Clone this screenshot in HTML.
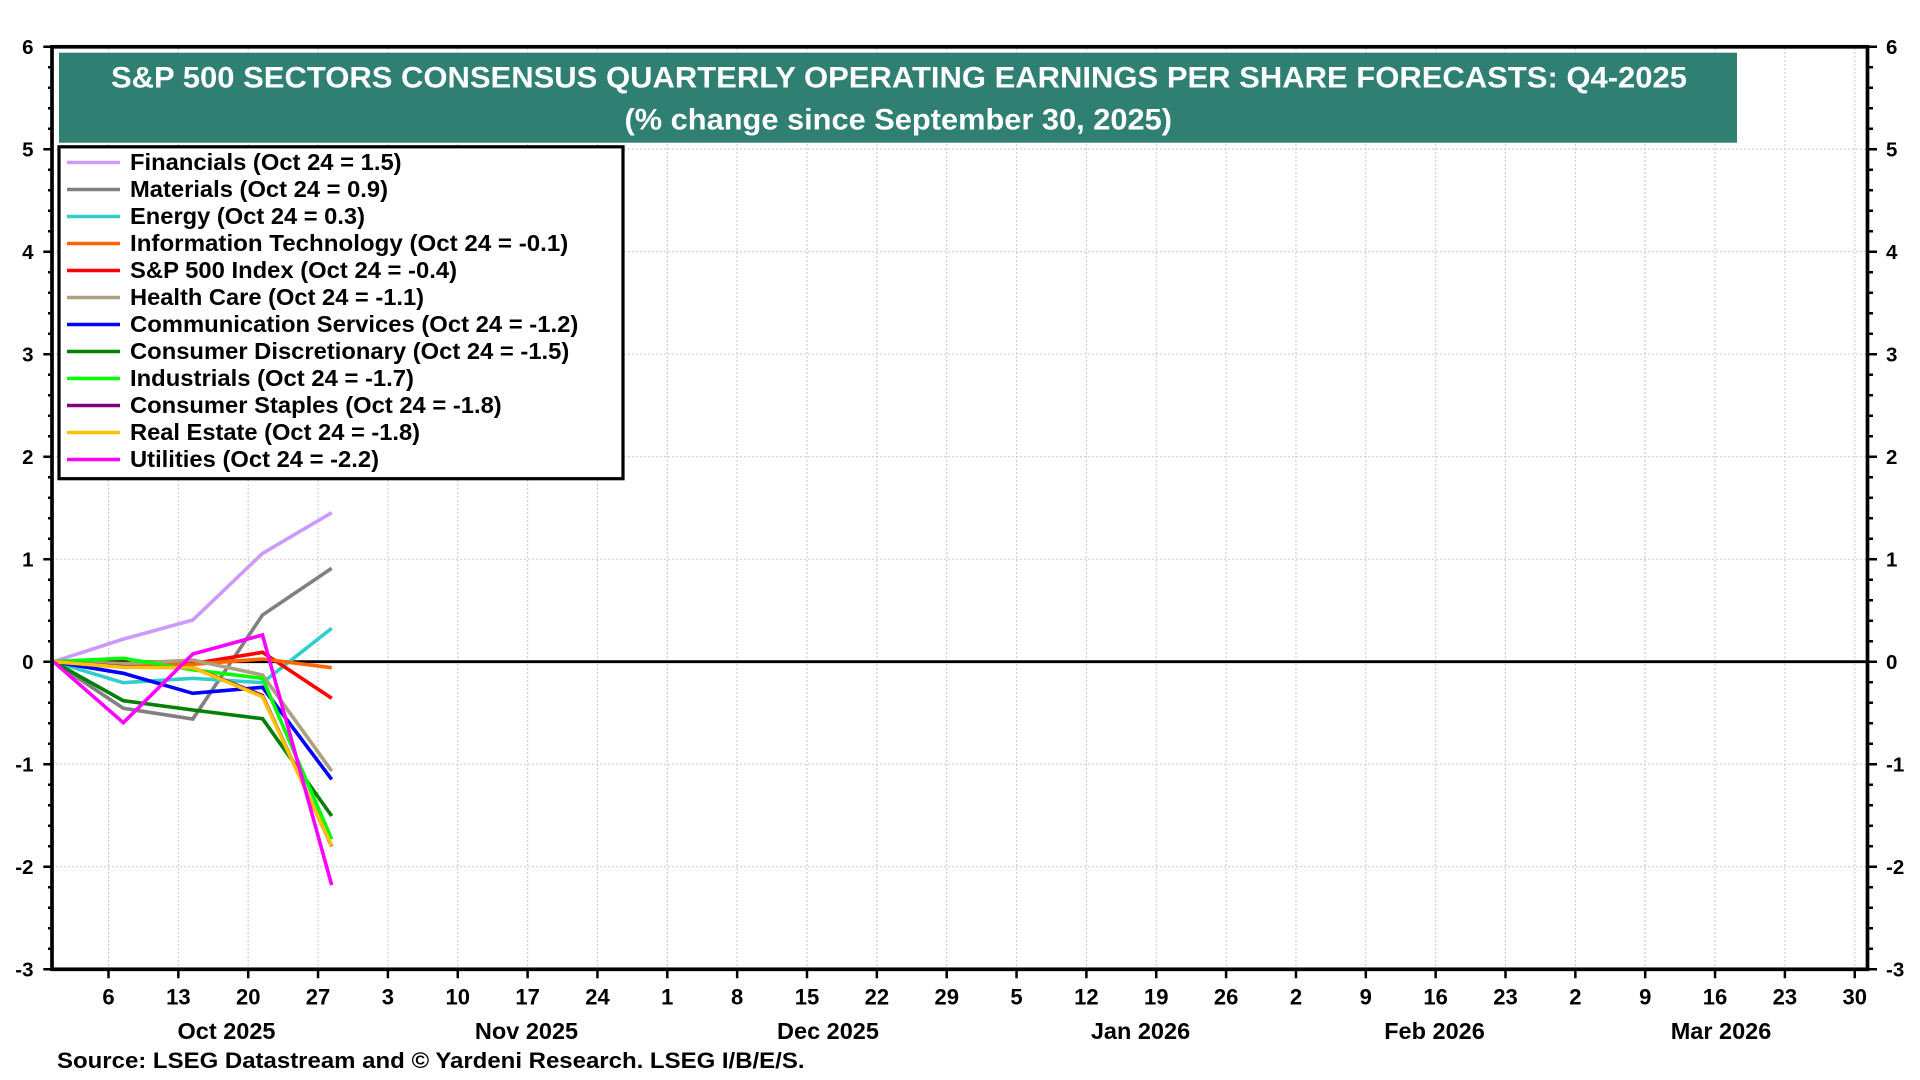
<!DOCTYPE html>
<html><head><meta charset="utf-8"><style>
html,body{margin:0;padding:0;background:#fff;}
svg{display:block;}
text{font-family:"Liberation Sans",Arial,sans-serif;font-weight:bold;}
</style></head><body>
<svg width="1920" height="1080" viewBox="0 0 1920 1080" xmlns="http://www.w3.org/2000/svg">
<rect x="0" y="0" width="1920" height="1080" fill="#fff"/>
<!-- gridlines -->
<g stroke="#cfcfcf" stroke-width="1.2" stroke-dasharray="2,2" fill="none">
<path d="M52 149.2H1867.5M52 251.7H1867.5M52 354.2H1867.5M52 456.7H1867.5M52 559.2H1867.5M52 764.2H1867.5M52 866.7H1867.5"/>
<path d="M108.5 48V968M178.35 48V968M248.2 48V968M318.05 48V968M387.9 48V968M457.75 48V968M527.6 48V968M597.45 48V968M667.3 48V968M737.15 48V968M807 48V968M876.85 48V968M946.7 48V968M1016.55 48V968M1086.4 48V968M1156.25 48V968M1226.1 48V968M1295.95 48V968M1365.8 48V968M1435.65 48V968M1505.5 48V968M1575.35 48V968M1645.2 48V968M1715.05 48V968M1784.9 48V968M1854.75 48V968"/>
</g>
<!-- title box -->
<rect x="59" y="52.7" width="1678" height="90" fill="#2F7F73"/>
<text x="111" y="87.3" font-size="30" fill="#fff" textLength="1576" lengthAdjust="spacingAndGlyphs">S&amp;P 500 SECTORS CONSENSUS QUARTERLY OPERATING EARNINGS PER SHARE FORECASTS: Q4-2025</text>
<text x="624.5" y="129.3" font-size="30" fill="#fff" textLength="547.5" lengthAdjust="spacingAndGlyphs">(% change since September 30, 2025)</text>
<!-- zero line -->
<line x1="52" y1="661.7" x2="1867.5" y2="661.7" stroke="#000" stroke-width="2.8"/>
<!-- data -->
<g fill="none" stroke-width="3.6" stroke-linejoin="miter" stroke-miterlimit="4">
<polyline stroke="#CC99FF" points="53.5,661.7 123.3,639.15 192.8,620 262.5,553.4 331.7,512.7"/>
<polyline stroke="#808080" points="53.5,661.7 123.3,708.3 192.8,719 262.5,615 331.7,568.3"/>
<polyline stroke="#33CCCC" points="53.5,661.7 123.3,682.7 192.8,678.3 262.5,682.7 331.7,628.3"/>
<polyline stroke="#FF0000" points="53.5,661.7 123.3,663.3 192.8,663.7 262.5,652.3 331.7,698.3"/>
<polyline stroke="#FF6600" points="53.5,661.7 123.3,663.7 192.8,664.3 262.5,659 331.7,667.7"/>
<polyline stroke="#ADA080" points="53.5,661.7 123.3,663.7 192.8,660 262.5,675 331.7,771"/>
<polyline stroke="#0000FF" points="53.5,661.7 123.3,673.3 192.8,693.3 262.5,687.3 331.7,779.4"/>
<polyline stroke="#008000" points="53.5,661.7 123.3,700.7 192.8,710 262.5,718.7 331.7,816"/>
<polyline stroke="#00FF00" points="53.5,661.7 123.3,658.3 192.8,669.9 262.5,678.3 331.7,839.3"/>
<polyline stroke="#800080" points="53.5,661.7 123.3,666.8 192.8,667.6 262.5,695.5 331.7,846.2"/>
<polyline stroke="#FFC000" points="53.5,661.7 123.3,667.3 192.8,667.6 262.5,696.7 331.7,845.7"/>
<polyline stroke="#FF00FF" points="53.5,661.7 123.3,722.7 192.8,654 262.5,635 331.7,885.1"/>
</g>
<!-- legend -->
<rect x="59" y="146.8" width="564" height="331.9" fill="#fff" stroke="#000" stroke-width="3.2"/>
<g stroke-width="3.5">
<line x1="67" x2="120" y1="162.5" y2="162.5" stroke="#CC99FF"/>
<line x1="67" x2="120" y1="189.5" y2="189.5" stroke="#808080"/>
<line x1="67" x2="120" y1="216.5" y2="216.5" stroke="#33CCCC"/>
<line x1="67" x2="120" y1="243.5" y2="243.5" stroke="#FF6600"/>
<line x1="67" x2="120" y1="270.5" y2="270.5" stroke="#FF0000"/>
<line x1="67" x2="120" y1="297.5" y2="297.5" stroke="#ADA080"/>
<line x1="67" x2="120" y1="324.5" y2="324.5" stroke="#0000FF"/>
<line x1="67" x2="120" y1="351.5" y2="351.5" stroke="#008000"/>
<line x1="67" x2="120" y1="378.5" y2="378.5" stroke="#00FF00"/>
<line x1="67" x2="120" y1="405.5" y2="405.5" stroke="#800080"/>
<line x1="67" x2="120" y1="432.5" y2="432.5" stroke="#FFC000"/>
<line x1="67" x2="120" y1="459.5" y2="459.5" stroke="#FF00FF"/>
</g>
<g font-size="23.5" fill="#000" lengthAdjust="spacingAndGlyphs">
<text x="130" y="170" textLength="271.6" lengthAdjust="spacingAndGlyphs">Financials (Oct 24 = 1.5)</text>
<text x="130" y="197" textLength="258" lengthAdjust="spacingAndGlyphs">Materials (Oct 24 = 0.9)</text>
<text x="130" y="224" textLength="235" lengthAdjust="spacingAndGlyphs">Energy (Oct 24 = 0.3)</text>
<text x="130" y="251" textLength="438.3" lengthAdjust="spacingAndGlyphs">Information Technology (Oct 24 = -0.1)</text>
<text x="130" y="278" textLength="327" lengthAdjust="spacingAndGlyphs">S&amp;P 500 Index (Oct 24 = -0.4)</text>
<text x="130" y="305" textLength="294" lengthAdjust="spacingAndGlyphs">Health Care (Oct 24 = -1.1)</text>
<text x="130" y="332" textLength="448.3" lengthAdjust="spacingAndGlyphs">Communication Services (Oct 24 = -1.2)</text>
<text x="130" y="359" textLength="439.3" lengthAdjust="spacingAndGlyphs">Consumer Discretionary (Oct 24 = -1.5)</text>
<text x="130" y="386" textLength="284" lengthAdjust="spacingAndGlyphs">Industrials (Oct 24 = -1.7)</text>
<text x="130" y="413" textLength="371.7" lengthAdjust="spacingAndGlyphs">Consumer Staples (Oct 24 = -1.8)</text>
<text x="130" y="440" textLength="290" lengthAdjust="spacingAndGlyphs">Real Estate (Oct 24 = -1.8)</text>
<text x="130" y="467" textLength="249" lengthAdjust="spacingAndGlyphs">Utilities (Oct 24 = -2.2)</text>
</g>
<!-- frame -->
<rect x="52" y="46.8" width="1815.5" height="922.5" fill="none" stroke="#000" stroke-width="3.7"/>
<!-- y ticks -->
<g stroke="#000" fill="none">
<line x1="47.65" y1="45.45" x2="47.65" y2="971" stroke-width="8.7" stroke-dasharray="2.5 100"/>
<line x1="50" y1="45.45" x2="50" y2="971" stroke-width="4" stroke-dasharray="2.5 18"/>
<line x1="1872.25" y1="45.45" x2="1872.25" y2="971" stroke-width="9.5" stroke-dasharray="2.5 100"/>
<line x1="1870" y1="45.45" x2="1870" y2="971" stroke-width="6" stroke-dasharray="2.5 18"/>
<line x1="107.25" y1="973.8" x2="1860" y2="973.8" stroke-width="9" stroke-dasharray="2.5 67.35"/>
</g>
<!-- y labels -->
<g font-size="20.5" fill="#000" text-anchor="end">
<text x="33.5" y="54">6</text>
<text x="33.5" y="156.5">5</text>
<text x="33.5" y="259">4</text>
<text x="33.5" y="361.5">3</text>
<text x="33.5" y="464">2</text>
<text x="33.5" y="566.5">1</text>
<text x="33.5" y="669">0</text>
<text x="33.5" y="771.5">-1</text>
<text x="33.5" y="874">-2</text>
<text x="33.5" y="976.5">-3</text>
</g>
<g font-size="20.5" fill="#000" text-anchor="start">
<text x="1886" y="54">6</text>
<text x="1886" y="156.5">5</text>
<text x="1886" y="259">4</text>
<text x="1886" y="361.5">3</text>
<text x="1886" y="464">2</text>
<text x="1886" y="566.5">1</text>
<text x="1886" y="669">0</text>
<text x="1886" y="771.5">-1</text>
<text x="1886" y="874">-2</text>
<text x="1886" y="976.5">-3</text>
</g>
<!-- x labels -->
<g font-size="22" fill="#000" text-anchor="middle">
<text x="108.5" y="1004.5">6</text>
<text x="178.35" y="1004.5">13</text>
<text x="248.2" y="1004.5">20</text>
<text x="318.05" y="1004.5">27</text>
<text x="387.9" y="1004.5">3</text>
<text x="457.75" y="1004.5">10</text>
<text x="527.6" y="1004.5">17</text>
<text x="597.45" y="1004.5">24</text>
<text x="667.3" y="1004.5">1</text>
<text x="737.15" y="1004.5">8</text>
<text x="807" y="1004.5">15</text>
<text x="876.85" y="1004.5">22</text>
<text x="946.7" y="1004.5">29</text>
<text x="1016.55" y="1004.5">5</text>
<text x="1086.4" y="1004.5">12</text>
<text x="1156.25" y="1004.5">19</text>
<text x="1226.1" y="1004.5">26</text>
<text x="1295.95" y="1004.5">2</text>
<text x="1365.8" y="1004.5">9</text>
<text x="1435.65" y="1004.5">16</text>
<text x="1505.5" y="1004.5">23</text>
<text x="1575.35" y="1004.5">2</text>
<text x="1645.2" y="1004.5">9</text>
<text x="1715.05" y="1004.5">16</text>
<text x="1784.9" y="1004.5">23</text>
<text x="1854.75" y="1004.5">30</text>
</g>
<g font-size="23.5" fill="#000" text-anchor="middle">
<text x="226.5" y="1039">Oct 2025</text>
<text x="526.5" y="1039">Nov 2025</text>
<text x="828" y="1039">Dec 2025</text>
<text x="1140.5" y="1039">Jan 2026</text>
<text x="1434.5" y="1039">Feb 2026</text>
<text x="1721" y="1039">Mar 2026</text>
</g>
<text x="57" y="1068" font-size="22" fill="#000" textLength="747.5" lengthAdjust="spacingAndGlyphs">Source: LSEG Datastream and © Yardeni Research. LSEG I/B/E/S.</text>
</svg>
</body></html>
